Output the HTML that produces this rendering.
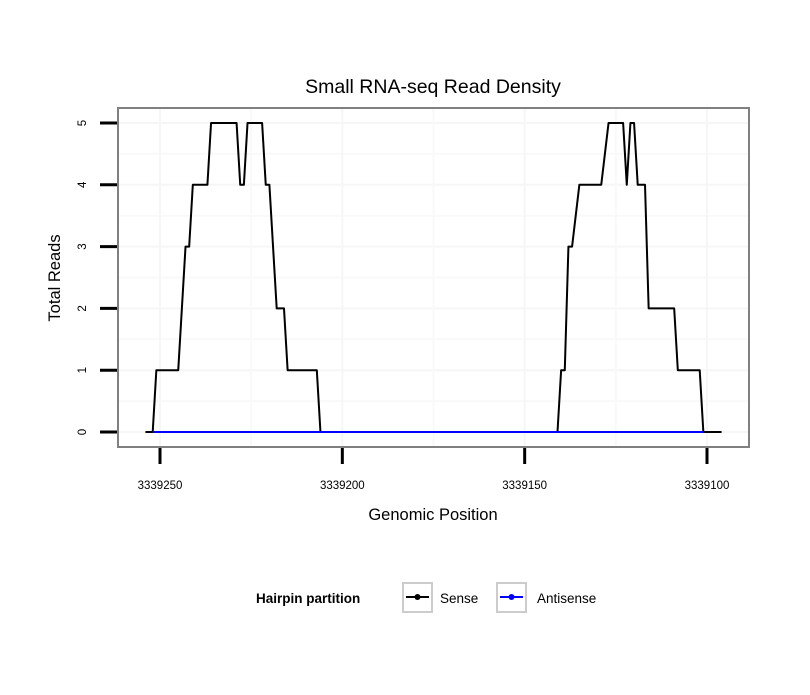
<!DOCTYPE html>
<html><head><meta charset="utf-8"><style>
body{margin:0;background:#fff}
svg text{font-family:"Liberation Sans",sans-serif}
</style></head><body>
<svg id="chart" width="810" height="690" xmlns="http://www.w3.org/2000/svg">
<rect width="810" height="690" fill="#fff"/>
<text x="433" y="93" font-size="19.5" text-anchor="middle">Small RNA-seq Read Density</text>
<g id="grid"></g>
<g id="series"></g>
<rect x="118" y="108" width="631" height="339" fill="none" stroke="#808080" stroke-width="2"/>
<g id="axes"></g>
<text x="433" y="520" font-size="16.5" text-anchor="middle">Genomic Position</text>
<text transform="translate(60,278) rotate(-90)" font-size="16.5" text-anchor="middle">Total Reads</text>
<g>
<text x="256" y="603" font-size="13.5" font-weight="bold">Hairpin partition</text>
<g>
<rect x="403" y="583" width="29" height="29" fill="#fff" stroke="#ccc" stroke-width="2"/>
<line x1="406" y1="597" x2="429" y2="597" stroke="#000" stroke-width="2"/><circle cx="417.5" cy="597" r="3" fill="#000"/>
<text x="440" y="603" font-size="13.5">Sense</text></g>
<g>
<rect x="497" y="583" width="29" height="29" fill="#fff" stroke="#ccc" stroke-width="2"/>
<line x1="500" y1="597" x2="523" y2="597" stroke="#00f" stroke-width="2"/><circle cx="511.5" cy="597" r="3" fill="#00f"/>
<text x="537" y="603" font-size="13.5">Antisense</text></g>
</g>
</svg>
<script>
const senseX=[3339254,3339252,3339251,3339245,3339243,3339242,3339241,3339237,3339236,3339229,3339228,3339227,3339226,3339222,3339221,3339220,3339218,3339216,3339215,3339207,3339206,3339141,3339140,3339139,3339138,3339137,3339135,3339129,3339127,3339123,3339122,3339121,3339120,3339119,3339117,3339116,3339109,3339108,3339102,3339101,3339096];
const senseY=[0,0,1,1,3,3,4,4,5,5,4,4,5,5,4,4,2,2,1,1,0,0,1,1,3,3,4,4,5,5,4,5,5,4,4,2,2,1,1,0,0];
const antiX=[3339252,3339101];
const antiY=[0,0];
const xTicks=[3339250,3339200,3339150,3339100];
const yTicks=[0,1,2,3,4,5];
const NS="http://www.w3.org/2000/svg";
const sx=v=>160+(3339250-v)*(547/150);
const sy=v=>432-v*61.8;
function mk(tag,attrs,parent){const e=document.createElementNS(NS,tag);for(const k in attrs)e.setAttribute(k,attrs[k]);parent.appendChild(e);return e;}
const grid=document.getElementById('grid'),series=document.getElementById('series'),axes=document.getElementById('axes');
for(let i=0;i<yTicks.length;i++){
  const l=mk('line',{x1:118,x2:749,y1:sy(yTicks[i]),y2:sy(yTicks[i]),stroke:'#f6f6f6','stroke-width':2},grid);
  
  
  if(i<yTicks.length-1){const m=mk('line',{x1:118,x2:749,y1:sy(yTicks[i]+0.5),y2:sy(yTicks[i]+0.5),stroke:'#f9f9f9','stroke-width':2},grid);
  
  }
  const t=mk('line',{x1:100,x2:117,y1:sy(yTicks[i]),y2:sy(yTicks[i]),stroke:'#000','stroke-width':3},axes);
  
  
  const tx=mk('text',{transform:`translate(86,${sy(yTicks[i])}) rotate(-90)`,'font-size':11.5,'text-anchor':'middle'},axes);
  tx.textContent=yTicks[i];
  
  
}
for(let i=0;i<xTicks.length;i++){
  const l=mk('line',{y1:108,y2:447,x1:sx(xTicks[i]),x2:sx(xTicks[i]),stroke:'#f6f6f6','stroke-width':2},grid);
  
  
  if(i<xTicks.length-1){const m=mk('line',{y1:108,y2:447,x1:sx(xTicks[i]-25),x2:sx(xTicks[i]-25),stroke:'#f9f9f9','stroke-width':2},grid);
  
  }
  const t=mk('line',{y1:448,y2:464,x1:sx(xTicks[i]),x2:sx(xTicks[i]),stroke:'#000','stroke-width':3},axes);
  
  
  const tx=mk('text',{x:sx(xTicks[i]),y:489,'font-size':11.5,'text-anchor':'middle'},axes);
  tx.textContent=xTicks[i];
  
  
}
const p1=mk('polyline',{points:senseX.map((x,i)=>sx(x)+','+sy(senseY[i])).join(' '),fill:'none',stroke:'#000','stroke-width':2,'stroke-linejoin':'round'},series);


const p2=mk('polyline',{points:antiX.map((x,i)=>sx(x)+','+sy(antiY[i])).join(' '),fill:'none',stroke:'#00f','stroke-width':2},series);


</script>
</body></html>
